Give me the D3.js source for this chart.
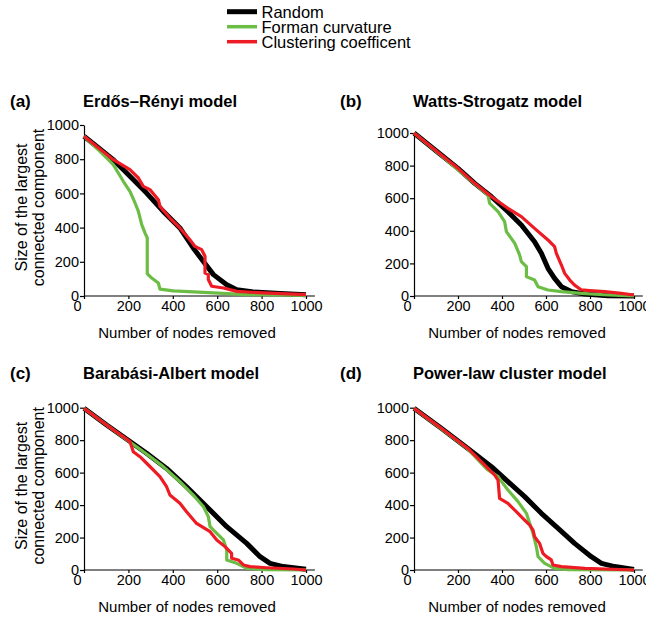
<!DOCTYPE html>
<html>
<head>
<meta charset="utf-8">
<script src="https://cdn.jsdelivr.net/npm/d3@7"></script>
<style>
  body { margin: 0; background: #fff; }
  svg { font-family: Arial, "Liberation Sans", sans-serif; }
</style>
</head>
<body>
<div id="chart"></div>
<script>
// tick values and labels
const xTicks = [0, 200, 400, 600, 800, 1000];
const yTicks = [0, 200, 400, 600, 800, 1000];
const panelLetters = ['(a)', '(b)', '(c)', '(d)'];
const panelTitles = ['Erdős–Rényi model', 'Watts-Strogatz model', 'Barabási-Albert model', 'Power-law cluster model'];
const seriesNames = ['Random', 'Forman curvature', 'Clustering coefficent'];
const seriesColors = ['#000000', '#6cbd45', '#ed1c24'];

// (a) Erdos-Renyi: [nodes removed, size of largest component]
const erRandom = [[0, 934], [132, 797], [207, 700], [282, 602], [357, 495], [432, 398], [492, 281], [537, 203], [583, 125], [643, 66], [688, 37], [763, 23], [883, 14], [1000, 8]];
const erForman = [[0, 934], [72, 846], [132, 768], [177, 671], [207, 612], [230, 544], [245, 495], [260, 417], [275, 368], [285, 340], [285, 130], [305, 105], [335, 76], [342, 40], [402, 30], [583, 18], [733, 8], [1000, 4]];
const erClustering = [[0, 934], [132, 797], [207, 739], [245, 690], [267, 641], [297, 622], [335, 563], [342, 524], [387, 456], [432, 398], [477, 329], [500, 290], [530, 271], [545, 232], [545, 134], [560, 125], [560, 96], [575, 57], [628, 47], [688, 27], [808, 18], [1000, 8]];

// (b) Watts-Strogatz
const wsRandom = [[0, 1000], [124, 865], [200, 783], [276, 691], [352, 609], [427, 517], [488, 436], [548, 333], [579, 262], [609, 170], [639, 108], [670, 57], [715, 27], [776, 12], [882, 2], [1000, 0]];
const wsForman = [[0, 1000], [124, 862], [200, 775], [276, 688], [336, 620], [344, 568], [382, 517], [412, 456], [420, 395], [458, 323], [480, 252], [488, 211], [511, 180], [511, 119], [548, 98], [564, 57], [609, 37], [670, 27], [761, 16], [882, 6], [1000, 0]];
const wsClustering = [[0, 1000], [124, 865], [200, 783], [276, 691], [352, 609], [427, 538], [488, 487], [548, 415], [609, 344], [639, 303], [647, 262], [670, 190], [685, 139], [708, 98], [730, 67], [761, 37], [798, 33], [867, 27], [942, 16], [1000, 6]];

// (c) Barabasi-Albert
const baRandom = [[0, 996], [102, 893], [177, 821], [282, 719], [372, 626], [462, 513], [553, 390], [643, 267], [733, 164], [793, 82], [838, 41], [898, 21], [1000, 4]];
const baForman = [[0, 996], [102, 893], [177, 818], [282, 715], [357, 637], [432, 544], [492, 462], [538, 390], [560, 329], [568, 267], [598, 226], [628, 185], [643, 123], [643, 62], [688, 41], [733, 10], [823, 2], [1000, 0]];
const baClustering = [[0, 996], [102, 893], [177, 821], [207, 791], [222, 729], [252, 698], [290, 647], [342, 575], [372, 513], [387, 462], [432, 411], [462, 359], [507, 287], [568, 236], [598, 185], [635, 144], [665, 103], [665, 72], [695, 62], [718, 31], [748, 21], [823, 14], [943, 6], [1000, 0]];

// (d) Power-law cluster
const plcRandom = [[0, 996], [124, 873], [245, 749], [352, 637], [427, 544], [503, 452], [579, 349], [655, 257], [730, 164], [806, 82], [852, 41], [912, 21], [1000, 4]];
const plcForman = [[0, 996], [124, 870], [245, 745], [336, 616], [382, 575], [427, 493], [473, 421], [511, 349], [526, 287], [541, 226], [556, 144], [564, 82], [594, 41], [639, 10], [700, 2], [1000, 0]];
const plcClustering = [[0, 996], [124, 873], [245, 749], [367, 585], [382, 554], [389, 441], [427, 411], [465, 359], [495, 318], [526, 277], [541, 246], [548, 205], [571, 164], [586, 103], [602, 82], [624, 62], [632, 31], [670, 21], [776, 10], [1000, 0]];

const panelSeries = [
  [erRandom, erForman, erClustering],
  [wsRandom, wsForman, wsClustering],
  [baRandom, baForman, baClustering],
  [plcRandom, plcForman, plcClustering]
];

// pixel layout of each panel
const layout = [
  { left: 84, right: 306, top: 125, bottom: 296, yLabel: true },
  { left: 414, right: 634, top: 133, bottom: 296, yLabel: false },
  { left: 84, right: 306, top: 407.7, bottom: 570, yLabel: true },
  { left: 414, right: 634, top: 407.7, bottom: 570, yLabel: false }
];
const strokeWidths = [5, 3.2, 3.2];

const svg = d3.select('#chart').append('svg')
  .attr('width', 646)
  .attr('height', 621);

// legend
const legend = svg.append('g').attr('transform', 'translate(227,0)');
seriesNames.forEach((name, i) => {
  const y = 11.7 + i * 15;
  legend.append('line')
    .attr('x1', 0).attr('x2', 30)
    .attr('y1', y).attr('y2', y)
    .attr('stroke', seriesColors[i])
    .attr('stroke-width', i === 0 ? 5 : 3.5);
  legend.append('text')
    .attr('x', 34.5).attr('y', y + 6)
    .attr('font-size', 16.5)
    .text(name);
});

layout.forEach((p, k) => {
  const x = d3.scaleLinear().domain([0, 1000]).range([p.left, p.right]);
  const y = d3.scaleLinear().domain([0, 1000]).range([p.bottom, p.top]);
  const g = svg.append('g');

  // x axis
  const xg = g.append('g')
    .attr('transform', `translate(0,${p.bottom})`)
    .call(d3.axisBottom(x).tickValues(xTicks).tickFormat(d3.format('d'))
      .tickSize(3).tickSizeOuter(0).tickPadding(2));
  xg.select('.domain').attr('d', `M${x(0)},0H${x(1040)}`);
  xg.selectAll('text').attr('font-size', 14.5).attr('fill', '#000')
    .attr('dx', (d) => (d === 0 ? -7 : 0));

  // y axis
  const yg = g.append('g')
    .attr('transform', `translate(${p.left},0)`)
    .call(d3.axisLeft(y).tickValues(yTicks).tickFormat(d3.format('d'))
      .tickSize(4).tickSizeOuter(0).tickPadding(1));
  yg.selectAll('text').attr('font-size', 14.5).attr('fill', '#000');
  g.selectAll('.domain, .tick line').attr('stroke', '#000').attr('stroke-width', 1.2);
  xg.attr('font-family', null);
  yg.attr('font-family', null);

  // curves
  const line = d3.line().x((d) => x(d[0])).y((d) => y(d[1]));
  panelSeries[k].forEach((data, i) => {
    g.append('path')
      .datum(data)
      .attr('fill', 'none')
      .attr('stroke', seriesColors[i])
      .attr('stroke-width', strokeWidths[i])
      .attr('stroke-linejoin', 'round')
      .attr('d', line);
  });

  // titles
  g.append('text')
    .attr('x', p.left - 74).attr('y', k < 2 ? 107 : 379)
    .attr('font-size', 17).attr('font-weight', 'bold')
    .text(panelLetters[k]);
  g.append('text')
    .attr('x', p.left - 1).attr('y', k < 2 ? 107 : 379)
    .attr('font-size', 16.5).attr('font-weight', 'bold')
    .text(panelTitles[k]);

  // axis labels
  g.append('text')
    .attr('x', p.left + 103).attr('y', p.bottom + 42)
    .attr('text-anchor', 'middle')
    .attr('font-size', 15)
    .text('Number of nodes removed');

  if (p.yLabel) {
    const cy = (p.top + p.bottom) / 2 - 3;
    g.append('text')
      .attr('transform', `translate(27,${cy}) rotate(-90)`)
      .attr('text-anchor', 'middle')
      .attr('font-size', 16)
      .text('Size of the largest');
    g.append('text')
      .attr('transform', `translate(44,${cy}) rotate(-90)`)
      .attr('text-anchor', 'middle')
      .attr('font-size', 16)
      .text('connected component');
  }
});
</script>
</body>
</html>
